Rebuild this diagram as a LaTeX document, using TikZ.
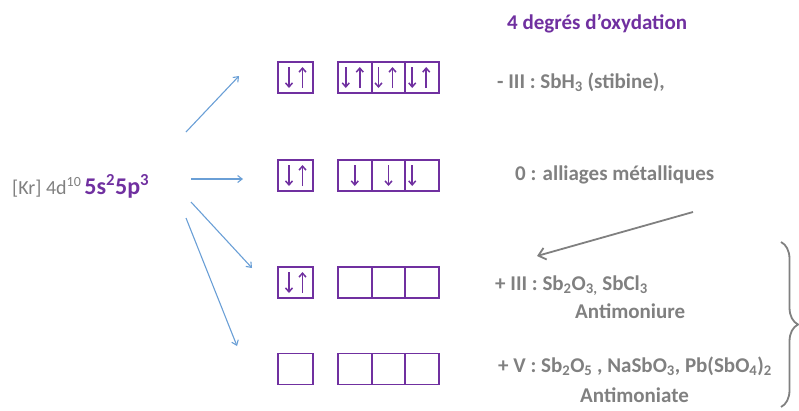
\documentclass[tikz,border=0pt]{standalone}
\usepackage{fontspec}
\setmainfont{Carlito}
\usetikzlibrary{arrows.meta,decorations.pathreplacing}
\definecolor{orbviolet}{HTML}{7030A0}
\definecolor{txtgrey}{HTML}{808080}
\definecolor{linkblue}{HTML}{6A9FD6}
\tikzset{
	orb/.style={draw=orbviolet, line width=1.8pt, minimum width=35pt, minimum height=31pt, inner sep=0pt},
	cell/.style={orb, minimum width=33.7pt},
	elec/.style={orbviolet, line width=1.5pt, -{Straight Barb[length=4pt,width=7pt]}},
	lbl/.style={txtgrey, font=\bfseries\fontsize{21}{24}\selectfont, anchor=west, inner sep=0pt},
	link/.style={linkblue, line width=1.1pt, -{Straight Barb[length=4.5pt,width=7pt]}}
}
% spin arrows inside a box: #1 = box, #2 = horizontal offset
\newcommand{\spindown}[2]{\draw[elec] ([xshift=#2pt,yshift=10.5pt]#1.center) -- ([xshift=#2pt,yshift=-10.5pt]#1.center);}
\newcommand{\spinup}[2]{\draw[elec] ([xshift=#2pt,yshift=-10.5pt]#1.center) -- ([xshift=#2pt,yshift=10.5pt]#1.center);}

\begin{document}
\begin{tikzpicture}[x=1pt, y=-1pt]
		%%%%% START %%%%%
		\useasboundingbox (0,0) rectangle (799,410);
		
		% configuration
		\node[anchor=west, inner sep=0pt] (cfg) at (12,186)
			{{\fontsize{20}{24}\selectfont\color{txtgrey}[Kr] 4d\textsuperscript{10}}\kern3pt{\color{orbviolet}\bfseries\fontsize{24}{28}\selectfont 5s\textsuperscript{2}5p\textsuperscript{3}}};
		
		% orbital boxes, one row per degree
		\node[orb] (s1) at (295.5,77.5) {};
		\node[cell] (p1a) at (354.8,77.5) {};
		\node[cell] (p1b) at (388.5,77.5) {};
		\node[cell] (p1c) at (422.2,77.5) {};
		
		\node[orb] (s2) at (295.5,175.5) {};
		\node[cell] (p2a) at (354.8,175.5) {};
		\node[cell] (p2b) at (388.5,175.5) {};
		\node[cell] (p2c) at (422.2,175.5) {};
		
		\node[orb] (s3) at (295.5,282.5) {};
		\node[cell] (p3a) at (354.8,282.5) {};
		\node[cell] (p3b) at (388.5,282.5) {};
		\node[cell] (p3c) at (422.2,282.5) {};
		
		\node[orb] (s4) at (295.5,369) {};
		\node[cell] (p4a) at (354.8,369) {};
		\node[cell] (p4b) at (388.5,369) {};
		\node[cell] (p4c) at (422.2,369) {};
		
		% electrons
		\spindown{s1}{-6.5} \spinup{s1}{7}
		\spindown{p1a}{-9} \spinup{p1a}{5}
		\spindown{p1b}{-10} \spinup{p1b}{4}
		\spindown{p1c}{-10} \spinup{p1c}{4}
		
		\spindown{s2}{-6.5} \spinup{s2}{7}
		\spindown{p2a}{0}
		\spindown{p2b}{0}
		\spindown{p2c}{-10}
		
		\spindown{s3}{-6.5} \spinup{s3}{7}
		
		% blue links
		\coordinate (a1) at (186,132); \coordinate (b1) at (239,76);
		\coordinate (a2) at (191,179); \coordinate (b2) at (243,179);
		\coordinate (a3) at (191,202); \coordinate (b3) at (252,268);
		\coordinate (a4) at (186,218); \coordinate (b4) at (237,346);
		\draw[link] (a1) -- (b1);
		\draw[link] (a2) -- (b2);
		\draw[link] (a3) -- (b3);
		\draw[link] (a4) -- (b4);
		
		% labels
		\node[lbl, text=orbviolet] (title) at (507,24) {4 degrés d’oxydation};
		\node[lbl] (ox1) at (497,82) {- III : SbH\textsubscript{3} (stibine),};
		\node[lbl] (ox2) at (515,175) {0 : alliages métalliques};
		\node[lbl] (ox3) at (495,286) {+ III : Sb\textsubscript{2}O\textsubscript{3,} SbCl\textsubscript{3}};
		\node[lbl] (ox3b) at (575,311) {Antimoniure};
		\node[lbl] (ox4) at (498,366) {+ V : Sb\textsubscript{2}O\textsubscript{5} , NaSbO\textsubscript{3}, Pb(SbO\textsubscript{4})\textsubscript{2}};
		\node[lbl] (ox4b) at (580,395) {Antimoniate};
		
		% grey arrow and brace
		\coordinate (g1) at (693,212); \coordinate (g2) at (537,256);
		\draw[txtgrey, line width=1.8pt, -{Straight Barb[length=7pt,width=12pt]}] (g1) -- (g2);
		\coordinate (k1) at (781,242); \coordinate (k2) at (781,407);
		\draw[txtgrey, line width=1.8pt, decorate, decoration={brace, amplitude=17pt}] (k1) -- (k2);
		
		%%%%% END %%%%%
\end{tikzpicture}
\end{document}
